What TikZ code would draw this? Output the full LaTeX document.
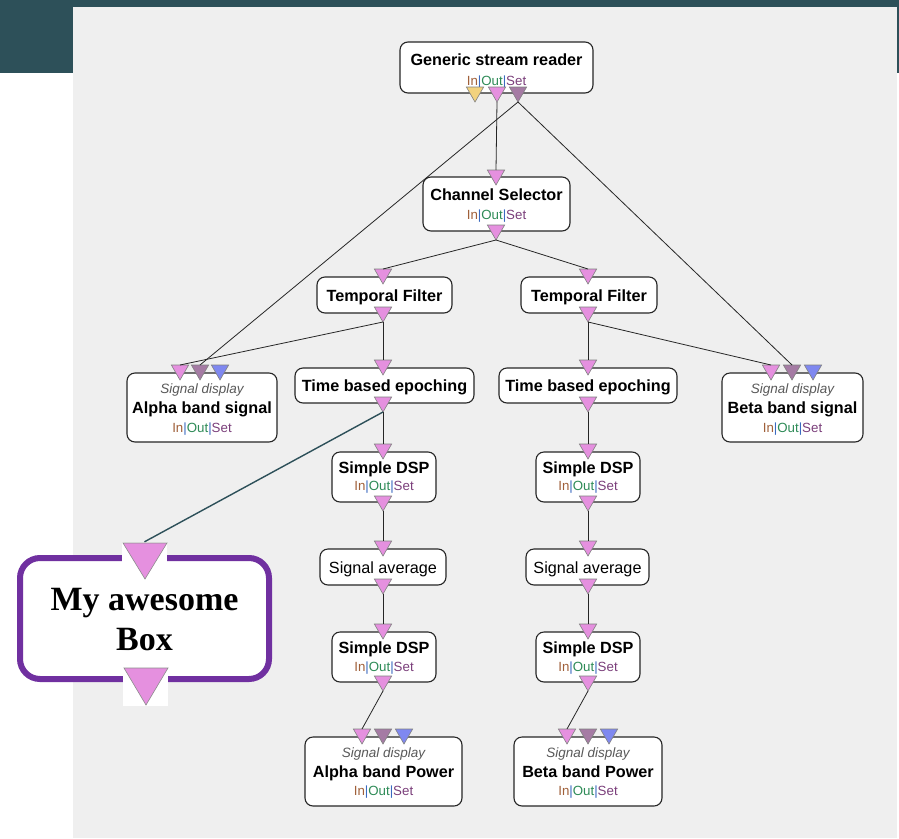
\documentclass[tikz,border=0pt]{standalone}
\usepackage{fontspec}
\setmainfont{Liberation Sans}
\newfontfamily\bigserif{Liberation Serif}
\usetikzlibrary{shapes.geometric}

\definecolor{teal}{HTML}{2D5059}
\definecolor{panel}{HTML}{EFEFEF}
\definecolor{pinkp}{HTML}{E590DF}
\definecolor{yellowp}{HTML}{F2D27E}
\definecolor{purplep}{HTML}{A57BA4}
\definecolor{bluep}{HTML}{7F88F0}
\definecolor{inc}{HTML}{A0603A}
\definecolor{outc}{HTML}{2E8B57}
\definecolor{setc}{HTML}{7B3F7B}
\definecolor{barc}{HTML}{3A6AC0}
\definecolor{awesome}{HTML}{7030A0}

\newcommand\iosline{\textcolor{inc}{In}\textcolor{barc}{|}\textcolor{outc}{Out}\textcolor{barc}{|}\textcolor{setc}{Set}}

\tikzset{
  box/.style={draw=black!85, fill=white, rounded corners=8pt, line width=1.1pt,
    inner sep=0pt, outer sep=0pt},
  port/.style={regular polygon, regular polygon sides=3, shape border rotate=180,
    minimum size=20pt, inner sep=0pt, outer sep=0pt, draw=black!50, line width=0.6pt, fill=#1},
  ttl/.style={anchor=base, inner sep=0pt, font=\fontsize{16.2}{18}\selectfont\bfseries},
  plain/.style={anchor=base, inner sep=0pt, font=\fontsize{16.2}{18}\selectfont},
  ios/.style={anchor=base, inner sep=0pt, font=\fontsize{13.3}{15}\selectfont},
  kind/.style={anchor=base, inner sep=0pt, text=black!65, font=\fontsize{13.5}{15}\selectfont\itshape},
  wire/.style={draw=black!85, line width=0.8pt},
}

\begin{document}
\begin{tikzpicture}[x=1pt, y=-1pt]
\useasboundingbox (0,0) rectangle (899,838);
% frame and panel
\fill[white] (0,0) rectangle (899,838);
\fill[panel] (73,7) rectangle (897,838);
\fill[teal] (0,0) rectangle (899,7);
\fill[teal] (0,0) rectangle (73,73);
\fill[teal] (897,7) rectangle (899,73);

% Generic stream reader
\node[box, minimum width=193pt, minimum height=51pt] (gsr) at (496.5,67.5) {};
\node[ttl] (gsr-t) at (496.5,65) {Generic stream reader};
\node[ios] (gsr-s) at (496.5,85) {\iosline};
\node[port=yellowp] (gsr-o1) at (475,92) {};
\node[port=pinkp]   (gsr-o2) at (497,92) {};
\node[port=purplep] (gsr-o3) at (518,92) {};

% Channel Selector
\node[box, minimum width=147pt, minimum height=54pt] (ch) at (496.5,204) {};
\node[ttl] (ch-t) at (496.5,200) {Channel Selector};
\node[ios] (ch-s) at (496.5,219.5) {\iosline};
\node[port=pinkp] (ch-i) at (496,175) {};
\node[port=pinkp] (ch-o) at (496,230) {};

% Temporal filters
\node[box, minimum width=135pt, minimum height=36pt] (tfl) at (384.5,295) {};
\node[ttl] (tfl-t) at (384.5,301) {Temporal Filter};
\node[port=pinkp] (tfl-i) at (383,274) {};
\node[port=pinkp] (tfl-o) at (383,312) {};

\node[box, minimum width=136pt, minimum height=36pt] (tfr) at (589,295) {};
\node[ttl] (tfr-t) at (589,301) {Temporal Filter};
\node[port=pinkp] (tfr-i) at (588,274) {};
\node[port=pinkp] (tfr-o) at (588,312) {};

% Time based epoching
\node[box, minimum width=179pt, minimum height=35pt] (tbl) at (384.5,385.5) {};
\node[ttl] (tbl-t) at (384.5,391.5) {Time based epoching};
\node[port=pinkp] (tbl-i) at (383,365) {};
\node[port=pinkp] (tbl-o) at (383,402) {};

\node[box, minimum width=178pt, minimum height=35pt] (tbr) at (588,385.5) {};
\node[ttl] (tbr-t) at (588,391.5) {Time based epoching};
\node[port=pinkp] (tbr-i) at (588,365) {};
\node[port=pinkp] (tbr-o) at (588,402) {};

% Alpha / Beta band signal displays
\node[box, minimum width=150pt, minimum height=69pt] (asig) at (202,407.5) {};
\node[kind] (asig-k) at (202,393) {Signal display};
\node[ttl] (asig-t) at (202,413) {Alpha band signal};
\node[ios] (asig-s) at (202,432) {\iosline};
\node[port=pinkp]   (asig-i1) at (180,370) {};
\node[port=purplep] (asig-i2) at (200,370) {};
\node[port=bluep]   (asig-i3) at (220,370) {};

\node[box, minimum width=141pt, minimum height=69pt] (bsig) at (792.5,407.5) {};
\node[kind] (bsig-k) at (792.5,393) {Signal display};
\node[ttl] (bsig-t) at (792.5,413) {Beta band signal};
\node[ios] (bsig-s) at (792.5,432) {\iosline};
\node[port=pinkp]   (bsig-i1) at (771,370) {};
\node[port=purplep] (bsig-i2) at (792,370) {};
\node[port=bluep]   (bsig-i3) at (813,370) {};

% Simple DSP (first stage)
\node[box, minimum width=104pt, minimum height=50pt] (dl1) at (384,477) {};
\node[ttl] (dl1-t) at (384,473) {Simple DSP};
\node[ios] (dl1-s) at (384,490.5) {\iosline};
\node[port=pinkp] (dl1-i) at (383,449) {};
\node[port=pinkp] (dl1-o) at (383,501) {};

\node[box, minimum width=104pt, minimum height=50pt] (dr1) at (588,477) {};
\node[ttl] (dr1-t) at (588,473) {Simple DSP};
\node[ios] (dr1-s) at (588,490.5) {\iosline};
\node[port=pinkp] (dr1-i) at (588,449) {};
\node[port=pinkp] (dr1-o) at (588,501) {};

% Signal average
\node[box, minimum width=126pt, minimum height=36pt] (al) at (383,567) {};
\node[plain] (al-t) at (383,573) {Signal average};
\node[port=pinkp] (al-i) at (383,546) {};
\node[port=pinkp] (al-o) at (383,584) {};

\node[box, minimum width=123pt, minimum height=36pt] (ar) at (587.5,567) {};
\node[plain] (ar-t) at (587.5,573) {Signal average};
\node[port=pinkp] (ar-i) at (588,546) {};
\node[port=pinkp] (ar-o) at (588,584) {};

% Simple DSP (second stage)
\node[box, minimum width=104pt, minimum height=50pt] (dl2) at (384,657) {};
\node[ttl] (dl2-t) at (384,653) {Simple DSP};
\node[ios] (dl2-s) at (384,671) {\iosline};
\node[port=pinkp] (dl2-i) at (383,629) {};
\node[port=pinkp] (dl2-o) at (383,681) {};

\node[box, minimum width=104pt, minimum height=50pt] (dr2) at (588,657) {};
\node[ttl] (dr2-t) at (588,653) {Simple DSP};
\node[ios] (dr2-s) at (588,671) {\iosline};
\node[port=pinkp] (dr2-i) at (588,629) {};
\node[port=pinkp] (dr2-o) at (588,681) {};

% Power displays
\node[box, minimum width=157pt, minimum height=69pt] (apow) at (383.5,771.5) {};
\node[kind] (apow-k) at (383.5,757) {Signal display};
\node[ttl] (apow-t) at (383.5,777) {Alpha band Power};
\node[ios] (apow-s) at (383.5,795.5) {\iosline};
\node[port=pinkp]   (apow-i1) at (362,734) {};
\node[port=purplep] (apow-i2) at (383,734) {};
\node[port=bluep]   (apow-i3) at (404,734) {};

\node[box, minimum width=148pt, minimum height=69pt] (bpow) at (588,771.5) {};
\node[kind] (bpow-k) at (588,757) {Signal display};
\node[ttl] (bpow-t) at (588,777) {Beta band Power};
\node[ios] (bpow-s) at (588,795.5) {\iosline};
\node[port=pinkp]   (bpow-i1) at (567,734) {};
\node[port=purplep] (bpow-i2) at (588,734) {};
\node[port=bluep]   (bpow-i3) at (609,734) {};

% My awesome Box
\node[draw=awesome, line width=6pt, fill=white, rounded corners=20pt,
      minimum width=249pt, minimum height=121pt, inner sep=0pt] (mab) at (144.5,618.5) {};
\node[anchor=base, inner sep=0pt, font=\bigserif\fontsize{34}{40}\selectfont\bfseries] (mab-t1) at (144.5,610) {My awesome};
\node[anchor=base, inner sep=0pt, font=\bigserif\fontsize{34}{40}\selectfont\bfseries] (mab-t2) at (144.5,650) {Box};
\node[fill=white, minimum width=45pt, minimum height=38pt, inner sep=0pt] (mab-ib) at (144.5,561) {};
\node[fill=white, minimum width=45pt, minimum height=39pt, inner sep=0pt] (mab-ob) at (145.5,686.5) {};
\draw[draw=black!45, line width=0.6pt, fill=pinkp] (123,543) -- (167,543) -- (145,579) -- cycle;
\draw[draw=black!45, line width=0.6pt, fill=pinkp] (124,668) -- (168,668) -- (146,705) -- cycle;

% connections
\draw[wire] (gsr-o2.corner 1) -- (ch-i.north);
\draw[wire] (gsr-o3.corner 1) -- (asig-i2.north);
\draw[wire] (gsr-o3.corner 1) -- (bsig-i2.north);
\draw[wire] (ch-o.corner 1) -- (tfl-i.north);
\draw[wire] (ch-o.corner 1) -- (tfr-i.north);
\draw[wire] (tfl-o.corner 1) -- (asig-i1.north);
\draw[wire] (tfl-o.corner 1) -- (tbl-i.north);
\draw[wire] (tfr-o.corner 1) -- (bsig-i1.north);
\draw[wire] (tfr-o.corner 1) -- (tbr-i.north);
\draw[wire] (tbl-o.corner 1) -- (dl1-i.north);
\draw[wire] (tbr-o.corner 1) -- (dr1-i.north);
\draw[wire] (dl1-o.corner 1) -- (al-i.north);
\draw[wire] (dr1-o.corner 1) -- (ar-i.north);
\draw[wire] (al-o.corner 1) -- (dl2-i.north);
\draw[wire] (ar-o.corner 1) -- (dr2-i.north);
\draw[wire] (dl2-o.corner 1) -- (apow-i1.north);
\draw[wire] (dr2-o.corner 1) -- (bpow-i1.north);
\draw[draw=teal, line width=1.4pt] (tbl-o.corner 1) -- (mab-ib.north);
\end{tikzpicture}
\end{document}
